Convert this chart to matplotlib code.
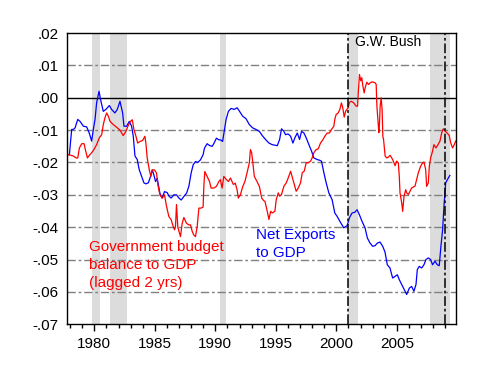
import matplotlib
matplotlib.use("Agg")
import matplotlib.pyplot as plt
from matplotlib.ticker import FixedLocator, MultipleLocator

plt.rcParams['font.family'] = ['Liberation Sans', 'DejaVu Sans']
plt.rcParams['lines.scale_dashes'] = False

# net exports to GDP
nx_year = [1977.94, 1978.13, 1978.27, 1978.41, 1978.63, 1978.82, 1979.10, 1979.37, 1979.59, 1979.78,
           1979.92, 1980.06, 1980.19, 1980.39, 1980.52, 1980.74, 1980.96, 1981.24, 1981.43, 1981.70,
           1981.90, 1982.12, 1982.34, 1982.45, 1982.67, 1982.89, 1983.08, 1983.22, 1983.36, 1983.55,
           1983.71, 1983.91, 1984.10, 1984.26, 1984.46, 1984.65, 1984.79, 1984.92, 1985.06, 1985.20,
           1985.42, 1985.60, 1985.80, 1986.02, 1986.19, 1986.35, 1986.57, 1986.79, 1986.99, 1987.18,
           1987.40, 1987.62, 1987.81, 1988.00, 1988.17, 1988.36, 1988.55, 1988.77, 1988.99, 1989.10,
           1989.32, 1989.54, 1989.74, 1989.87, 1990.09, 1990.29, 1990.42, 1990.60, 1990.75, 1990.89,
           1991.08, 1991.30, 1991.57, 1991.80, 1992.00, 1992.26, 1992.54, 1992.81, 1993.08, 1993.36,
           1993.64, 1993.88, 1994.15, 1994.43, 1994.70, 1995.12, 1995.31, 1995.47, 1995.67, 1995.80,
           1996.02, 1996.22, 1996.41, 1996.57, 1996.77, 1996.96, 1997.12, 1997.32, 1997.51, 1997.73,
           1997.95, 1998.14, 1998.42, 1998.61, 1998.77, 1998.97, 1999.16, 1999.38, 1999.65, 1999.87,
           2000.07, 2000.34, 2000.61, 2000.89, 2001.08, 2001.30, 2001.52, 2001.71, 2001.90, 2002.10,
           2002.37, 2002.56, 2002.78, 2003.00, 2003.20, 2003.39, 2003.61, 2003.83, 2004.02, 2004.21,
           2004.43, 2004.65, 2004.85, 2005.04, 2005.20, 2005.40, 2005.59, 2005.81, 2006.03, 2006.22,
           2006.41, 2006.58, 2006.69, 2006.85, 2007.05, 2007.24, 2007.40, 2007.60, 2007.79, 2007.95,
           2008.15, 2008.34, 2008.50, 2008.64, 2008.78, 2008.89, 2009.03, 2009.25, 2009.38]
nx_val = [-0.0176, -0.0098, -0.0098, -0.0093, -0.0067, -0.0073, -0.0088, -0.0090, -0.0110, -0.0134,
          -0.0098, -0.0067, -0.0016, 0.0020, -0.0006, -0.0042, -0.0036, -0.0024, -0.0036, -0.0047,
          -0.0036, -0.0011, -0.0047, -0.0088, -0.0088, -0.0073, -0.0088, -0.0119, -0.0180, -0.0191,
          -0.0222, -0.0243, -0.0263, -0.0266, -0.0263, -0.0243, -0.0223, -0.0238, -0.0259, -0.0249,
          -0.0295, -0.0310, -0.0290, -0.0293, -0.0305, -0.0310, -0.0300, -0.0300, -0.0310, -0.0316,
          -0.0305, -0.0295, -0.0274, -0.0233, -0.0207, -0.0197, -0.0200, -0.0192, -0.0176, -0.0156,
          -0.0142, -0.0148, -0.0150, -0.0142, -0.0125, -0.0130, -0.0130, -0.0135, -0.0100, -0.0067,
          -0.0042, -0.0033, -0.0036, -0.0031, -0.0042, -0.0057, -0.0065, -0.0083, -0.0093, -0.0098,
          -0.0104, -0.0117, -0.0129, -0.0140, -0.0145, -0.0148, -0.0129, -0.0096, -0.0104, -0.0114,
          -0.0112, -0.0119, -0.0140, -0.0124, -0.0109, -0.0129, -0.0104, -0.0109, -0.0124, -0.0145,
          -0.0165, -0.0186, -0.0191, -0.0193, -0.0196, -0.0232, -0.0263, -0.0294, -0.0315, -0.0356,
          -0.0367, -0.0385, -0.0402, -0.0395, -0.0371, -0.0356, -0.0354, -0.0346, -0.0361, -0.0380,
          -0.0402, -0.0433, -0.0449, -0.0459, -0.0457, -0.0449, -0.0446, -0.0459, -0.0477, -0.0516,
          -0.0526, -0.0557, -0.0552, -0.0547, -0.0562, -0.0577, -0.0591, -0.0608, -0.0588, -0.0583,
          -0.0598, -0.0577, -0.0531, -0.0521, -0.0526, -0.0516, -0.0500, -0.0495, -0.0500, -0.0516,
          -0.0505, -0.0516, -0.0519, -0.0459, -0.0408, -0.0336, -0.0263, -0.0248, -0.0240]

# government budget balance to GDP, lagged 2 years
gb_year = [1977.86, 1978.05, 1978.27, 1978.49, 1978.63, 1978.77, 1978.96, 1979.15, 1979.29, 1979.43,
           1979.59, 1979.78, 1979.97, 1980.19, 1980.41, 1980.61, 1980.74, 1980.88, 1981.02, 1981.16,
           1981.30, 1981.57, 1981.84, 1982.12, 1982.39, 1982.61, 1982.80, 1982.99, 1983.14, 1983.27,
           1983.44, 1983.58, 1983.77, 1983.99, 1984.18, 1984.26, 1984.37, 1984.54, 1984.67, 1984.79,
           1984.98, 1985.14, 1985.25, 1985.42, 1985.61, 1985.80, 1985.97, 1986.16, 1986.35, 1986.52,
           1986.63, 1986.71, 1986.79, 1986.90, 1987.12, 1987.26, 1987.40, 1987.62, 1987.81, 1987.95,
           1988.09, 1988.22, 1988.36, 1988.50, 1988.64, 1988.82, 1988.99, 1989.05, 1989.13, 1989.32,
           1989.52, 1989.65, 1989.87, 1990.09, 1990.29, 1990.42, 1990.56, 1990.70, 1990.92, 1991.08,
           1991.25, 1991.49, 1991.65, 1991.80, 1991.90, 1992.07, 1992.26, 1992.45, 1992.62, 1992.81,
           1992.90, 1993.00, 1993.10, 1993.22, 1993.43, 1993.64, 1993.83, 1994.00, 1994.10, 1994.29,
           1994.43, 1994.57, 1994.70, 1994.92, 1995.03, 1995.20, 1995.31, 1995.47, 1995.67, 1995.86,
           1996.02, 1996.22, 1996.41, 1996.57, 1996.68, 1996.85, 1997.04, 1997.18, 1997.34, 1997.51,
           1997.67, 1997.87, 1998.00, 1998.14, 1998.33, 1998.50, 1998.69, 1998.88, 1999.05, 1999.24,
           1999.43, 1999.60, 1999.79, 1999.87, 1999.98, 2000.15, 2000.29, 2000.42, 2000.53, 2000.65,
           2000.76, 2000.97, 2001.08, 2001.25, 2001.44, 2001.63, 2001.75, 2001.83, 2001.91, 2002.02,
           2002.10, 2002.19, 2002.30, 2002.38, 2002.52, 2002.66, 2002.79, 2002.93, 2003.07, 2003.21,
           2003.29, 2003.35, 2003.43, 2003.51, 2003.56, 2003.62, 2003.70, 2003.78, 2003.84, 2003.90,
           2003.95, 2004.03, 2004.17, 2004.31, 2004.44, 2004.58, 2004.71, 2004.85, 2004.98, 2005.12,
           2005.20, 2005.26, 2005.40, 2005.48, 2005.59, 2005.73, 2005.81, 2005.95, 2006.08, 2006.22,
           2006.36, 2006.50, 2006.63, 2006.77, 2006.96, 2007.13, 2007.24, 2007.38, 2007.46, 2007.60,
           2007.68, 2007.79, 2007.95, 2008.06, 2008.23, 2008.40, 2008.56, 2008.70, 2008.83, 2008.97,
           2009.16, 2009.33, 2009.44, 2009.60, 2009.74, 2009.86]
gb_val = [-0.0176, -0.0178, -0.0180, -0.0186, -0.0186, -0.0155, -0.0142, -0.0142, -0.0165, -0.0186,
          -0.0178, -0.0170, -0.0160, -0.0145, -0.0124, -0.0114, -0.0083, -0.0062, -0.0047, -0.0057,
          -0.0073, -0.0083, -0.0091, -0.0100, -0.0117, -0.0104, -0.0086, -0.0073, -0.0068, -0.0098,
          -0.0119, -0.0140, -0.0135, -0.0132, -0.0119, -0.0140, -0.0186, -0.0222, -0.0243, -0.0223,
          -0.0223, -0.0233, -0.0269, -0.0300, -0.0310, -0.0300, -0.0336, -0.0367, -0.0377, -0.0398,
          -0.0408, -0.0396, -0.0330, -0.0400, -0.0429, -0.0388, -0.0370, -0.0388, -0.0393, -0.0393,
          -0.0413, -0.0424, -0.0429, -0.0398, -0.0341, -0.0341, -0.0338, -0.0274, -0.0228, -0.0243,
          -0.0259, -0.0279, -0.0279, -0.0274, -0.0259, -0.0253, -0.0279, -0.0243, -0.0253, -0.0259,
          -0.0248, -0.0268, -0.0264, -0.0285, -0.0310, -0.0300, -0.0275, -0.0258, -0.0232, -0.0201,
          -0.0160, -0.0170, -0.0201, -0.0243, -0.0258, -0.0274, -0.0310, -0.0318, -0.0320, -0.0351,
          -0.0376, -0.0351, -0.0356, -0.0351, -0.0315, -0.0294, -0.0304, -0.0299, -0.0273, -0.0263,
          -0.0248, -0.0227, -0.0253, -0.0274, -0.0289, -0.0279, -0.0263, -0.0232, -0.0227, -0.0201,
          -0.0201, -0.0196, -0.0186, -0.0170, -0.0160, -0.0158, -0.0140, -0.0130, -0.0119, -0.0109,
          -0.0109, -0.0098, -0.0088, -0.0067, -0.0052, -0.0047, -0.0036, -0.0016, -0.0031, -0.0060,
          -0.0042, -0.0031, -0.0014, -0.0011, -0.0016, -0.0026, -0.0026, 0.0026, 0.0072, 0.0052,
          0.0062, 0.0036, 0.0015, 0.0031, 0.0048, 0.0041, 0.0046, 0.0049, 0.0048, 0.0046,
          0.0041, -0.0026, -0.0067, -0.0108, -0.0082, -0.0026, 0.0000, -0.0036, -0.0119, -0.0129,
          -0.0150, -0.0180, -0.0186, -0.0183, -0.0178, -0.0186, -0.0196, -0.0210, -0.0196, -0.0201,
          -0.0243, -0.0294, -0.0325, -0.0351, -0.0305, -0.0284, -0.0294, -0.0299, -0.0289, -0.0279,
          -0.0276, -0.0273, -0.0253, -0.0232, -0.0212, -0.0201, -0.0199, -0.0222, -0.0274, -0.0263,
          -0.0212, -0.0186, -0.0165, -0.0145, -0.0155, -0.0145, -0.0134, -0.0109, -0.0096, -0.0103,
          -0.0109, -0.0117, -0.0138, -0.0155, -0.0145, -0.0134]

# recessions (start, end) and presidency markers
recessions = [(1979.8, 1980.45), (1981.27, 1982.72), (1990.42, 1990.92), (2001.0, 2001.78), (2007.75, 2009.37)]
bush_lines = [2001.0, 2009.0]

y_ticks = [0.02, 0.01, 0.0, -0.01, -0.02, -0.03, -0.04, -0.05, -0.06, -0.07]
y_labels = ['.02', '.01', '.00', '-.01', '-.02', '-.03', '-.04', '-.05', '-.06', '-.07']
x_ticks = [1980, 1985, 1990, 1995, 2000, 2005]

fig = plt.figure(figsize=(4.99, 3.76), dpi=100)
ax = fig.add_axes([0.1337, 0.1375, 0.7795, 0.7747])

for a, b in recessions:
    ax.axvspan(a, b, color='#dcdcdc', lw=0, zorder=0)

for yv in y_ticks[1:-1]:
    if yv == 0.0:
        ax.axhline(yv, color='black', lw=1.0, zorder=1)
    else:
        ax.axhline(yv, color='#808080', lw=1.0, dashes=(6, 2, 2, 2), zorder=1)

for xv in bush_lines:
    ax.axvline(xv, color='black', lw=1.1, dashes=(7, 2, 2, 2), zorder=3)

ax.plot(nx_year, nx_val, color='#0000ff', lw=0.9, zorder=2)
ax.plot(gb_year, gb_val, color='#ff0000', lw=0.9, zorder=2)

ax.set_xlim(1977.72, 2009.86)
ax.set_ylim(-0.07, 0.02)
ax.set_yticks(y_ticks)
ax.set_yticklabels(y_labels)
ax.xaxis.set_major_locator(FixedLocator(x_ticks))
ax.xaxis.set_minor_locator(MultipleLocator(1))
ax.tick_params(axis='y', length=0, pad=6, labelsize=11)
ax.tick_params(axis='x', which='major', length=5, width=1, direction='out', pad=4, labelsize=11)
ax.tick_params(axis='x', which='minor', length=3, width=1, direction='out')
for s in ax.spines.values():
    s.set_linewidth(1.0)

ax.text(1979.6, -0.0438, 'Government budget\nbalance to GDP\n(lagged 2 yrs)', color='#ff0000',
        fontsize=11, va='top', ha='left', linespacing=1.38)
ax.text(1993.4, -0.0402, 'Net Exports\nto GDP', color='#0000ff',
        fontsize=11, va='top', ha='left', linespacing=1.35)
ax.text(2001.55, 0.0195, 'G.W. Bush', color='black', fontsize=10, va='top', ha='left')

fig.savefig('out.png', dpi=100)
